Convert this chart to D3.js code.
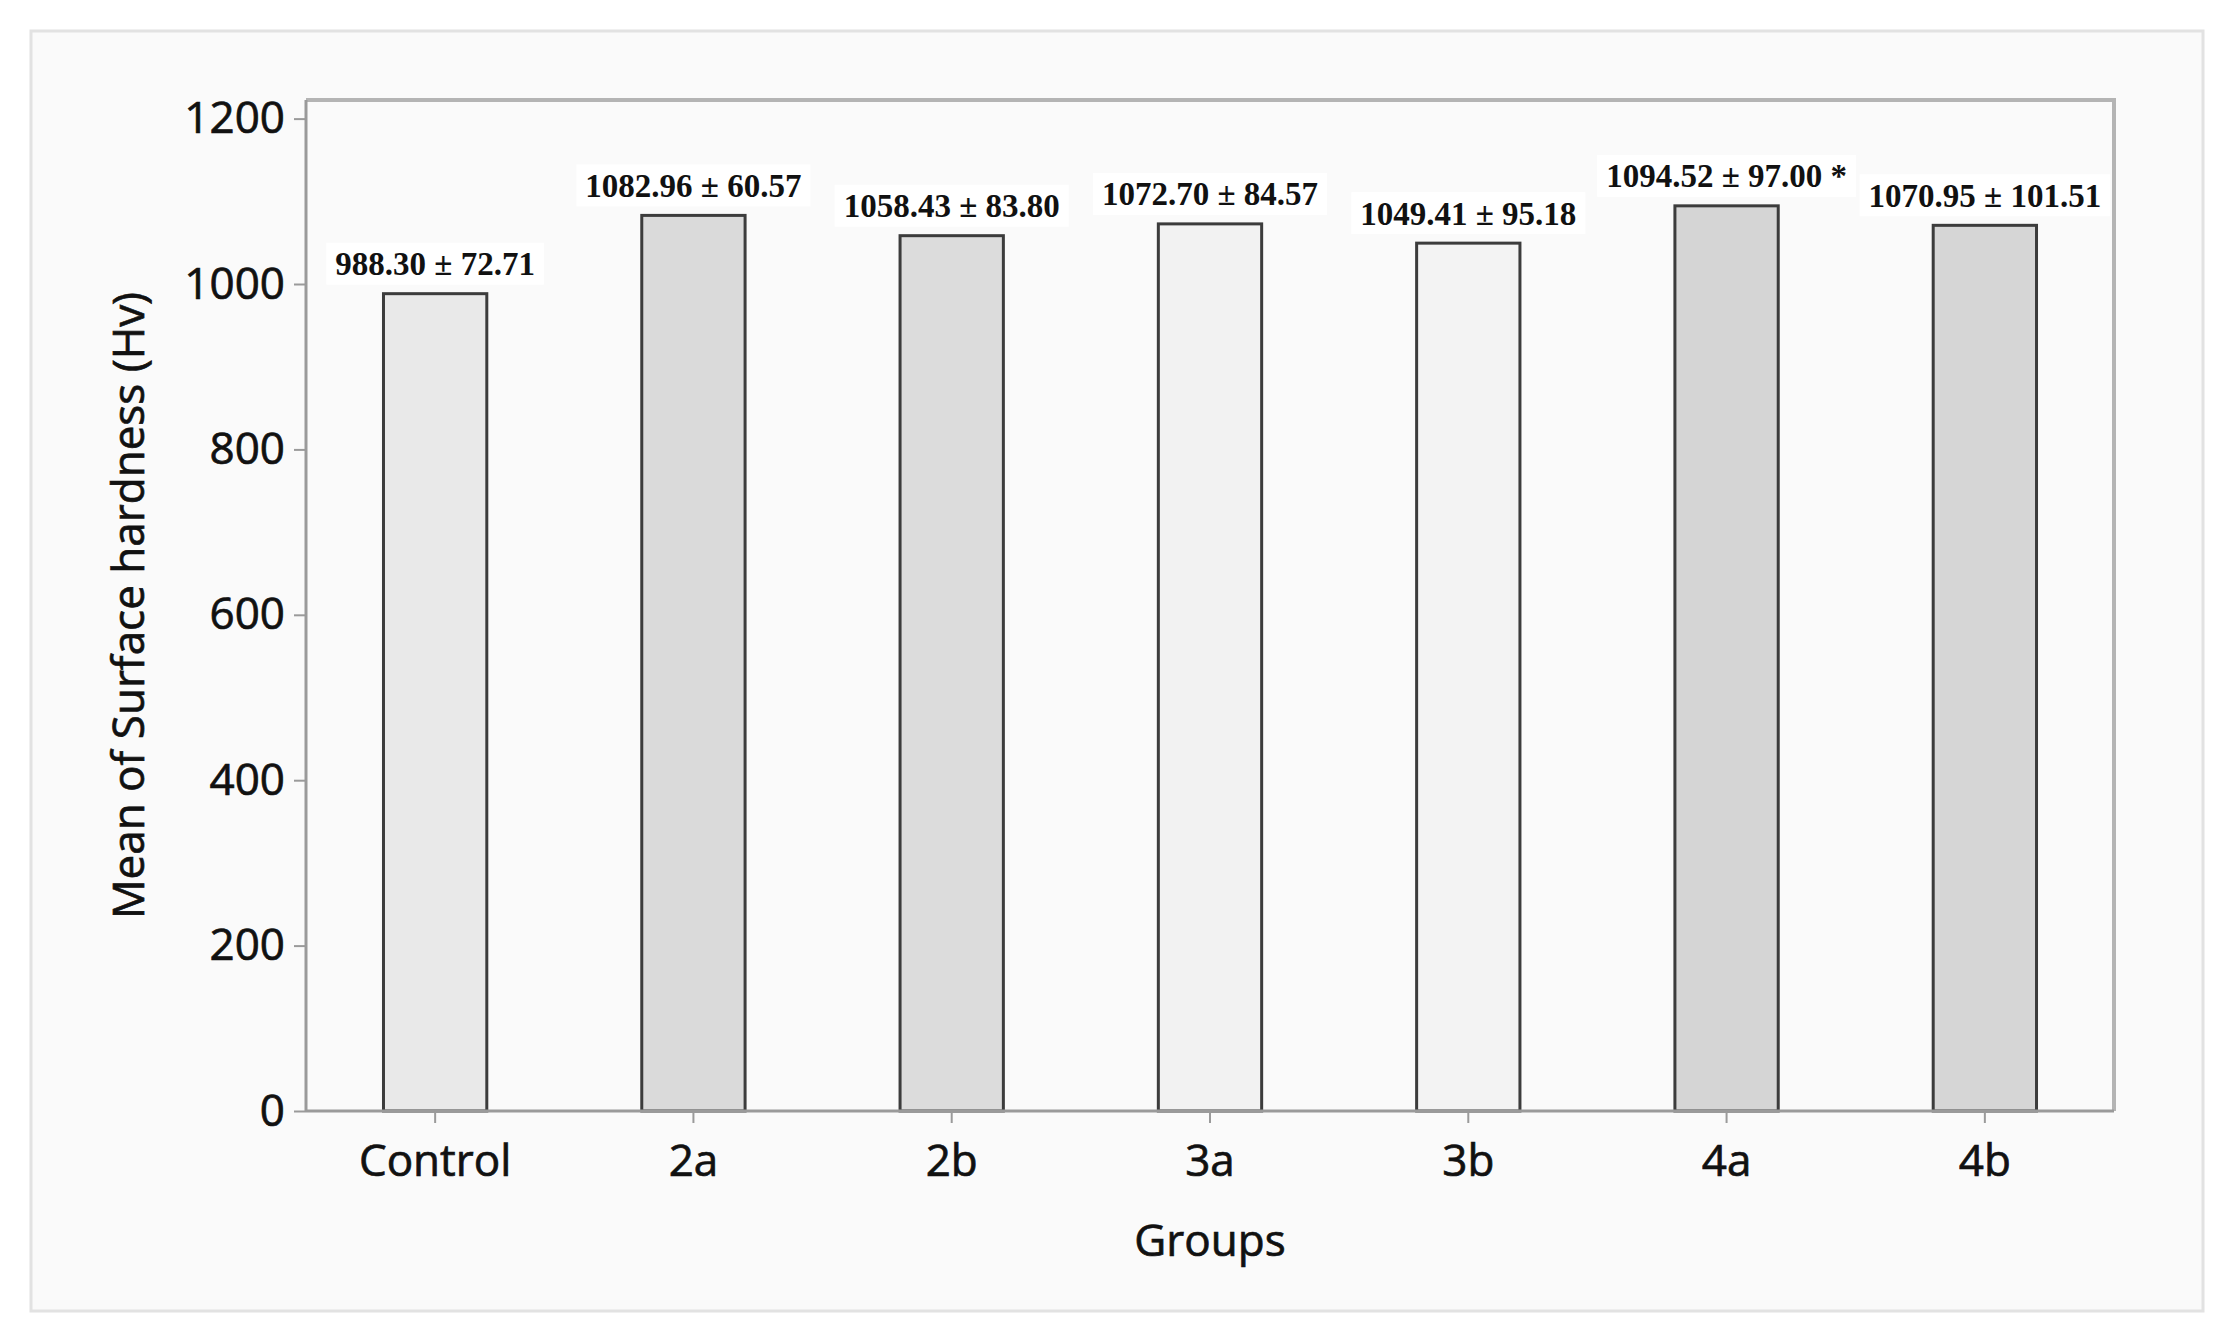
<!DOCTYPE html>
<html>
<head>
<meta charset="utf-8">
<script src="https://cdn.jsdelivr.net/npm/d3@7"></script>
<style>
  html, body { margin: 0; padding: 0; background: #ffffff; }
  svg { display: block; }
</style>
</head>
<body>
<svg id="chart" width="2234" height="1343"></svg>
<script>
const categories = ["Control", "2a", "2b", "3a", "3b", "4a", "4b"];
const means = [988.30, 1082.96, 1058.43, 1072.70, 1049.41, 1094.52, 1070.95];
const sds = [72.71, 60.57, 83.80, 84.57, 95.18, 97.00, 101.51];
const marks = ["", "", "", "", "", " *", ""];
const yTicks = [0, 200, 400, 600, 800, 1000, 1200];
const yTitle = "Mean of Surface hardness (Hv)";
const xTitle = "Groups";

const fills = ["#e9e9e9", "#dadada", "#dcdcdc", "#f2f2f2", "#f3f3f3", "#d5d5d5", "#d6d6d6"];

const svg = d3.select("#chart");
const plot = { left: 306, top: 100, right: 2114, bottom: 1111 };
const sansFont = "'Open Sans', 'Noto Sans', sans-serif";

// outer panel
svg.append("rect").attr("x", 31).attr("y", 31).attr("width", 2172).attr("height", 1280)
  .attr("fill", "#fafafa").attr("stroke", "#e2e2e2").attr("stroke-width", 3);

const x = d3.scaleBand().domain(categories)
  .range([plot.left, plot.right]).paddingInner(0.6).paddingOuter(0.3);
const y = d3.scaleLinear().domain([0, 1222.5]).range([plot.bottom, plot.top]);
const color = d3.scaleOrdinal().domain(categories).range(fills);

// plot frame (top, right)
svg.append("path")
  .attr("d", `M${plot.left},${plot.top} H${plot.right} V${plot.bottom}`)
  .attr("fill", "none").attr("stroke", "#b4b4b4").attr("stroke-width", 4);

const data = categories.map((c, i) => ({ c, m: means[i], s: sds[i], k: marks[i] }));

// bars
svg.append("g").selectAll("rect").data(data).join("rect")
  .attr("x", d => x(d.c)).attr("width", x.bandwidth())
  .attr("y", d => y(d.m)).attr("height", d => y(0) - y(d.m))
  .attr("fill", d => color(d.c))
  .attr("stroke", "#3c3c3c").attr("stroke-width", 3);

function styleSans(sel) {
  sel.attr("fill", "#111").attr("stroke", "#111").attr("stroke-width", 0.7)
    .style("font-family", sansFont).style("font-size", "44px");
}

// y axis
const yAxis = svg.append("g").attr("transform", `translate(${plot.left},0)`)
  .call(d3.axisLeft(y).tickValues(yTicks).tickSize(12).tickPadding(9).tickFormat(d3.format("d")));
yAxis.select(".domain").attr("stroke", "#9a9a9a").attr("stroke-width", 3)
  .attr("d", `M0,${plot.top}V${plot.bottom}`);
yAxis.selectAll(".tick line").attr("stroke", "#9a9a9a").attr("stroke-width", 2);
yAxis.selectAll(".tick text").call(styleSans);

// x axis
const xAxis = svg.append("g").attr("transform", `translate(0,${plot.bottom})`)
  .call(d3.axisBottom(x).tickSize(12).tickPadding(22));
xAxis.select(".domain").attr("stroke", "#9a9a9a").attr("stroke-width", 3)
  .attr("d", `M${plot.left},0H${plot.right}`);
xAxis.selectAll(".tick line").attr("stroke", "#9a9a9a").attr("stroke-width", 2);
xAxis.selectAll(".tick text").call(styleSans);

// axis titles
svg.append("text").attr("x", (plot.left + plot.right) / 2).attr("y", 1256)
  .attr("text-anchor", "middle").call(styleSans)
  .text(xTitle);
svg.append("text")
  .attr("transform", `translate(144,${(plot.top + plot.bottom) / 2}) rotate(-90)`)
  .attr("text-anchor", "middle").call(styleSans)
  .text(yTitle);

// value labels with white boxes
const lg = svg.append("g");
const labels = lg.selectAll("g").data(data).join("g")
  .attr("transform", d => `translate(${x(d.c) + x.bandwidth() / 2},${y(d.m) - 30})`);
const txt = labels.append("text")
  .attr("text-anchor", "middle").attr("dy", "0.35em").attr("fill", "#111")
  .style("font-family", "'Liberation Serif', 'DejaVu Serif', serif")
  .style("font-weight", "bold").style("font-size", "33px")
  .text(d => `${d.m.toFixed(2)} ± ${d.s.toFixed(2)}${d.k}`);
txt.each(function() {
  const b = this.getBBox();
  d3.select(this.parentNode).insert("rect", "text")
    .attr("x", b.x - 9).attr("y", -21).attr("width", b.width + 18).attr("height", 42)
    .attr("fill", "#ffffff");
});
</script>
</body>
</html>
